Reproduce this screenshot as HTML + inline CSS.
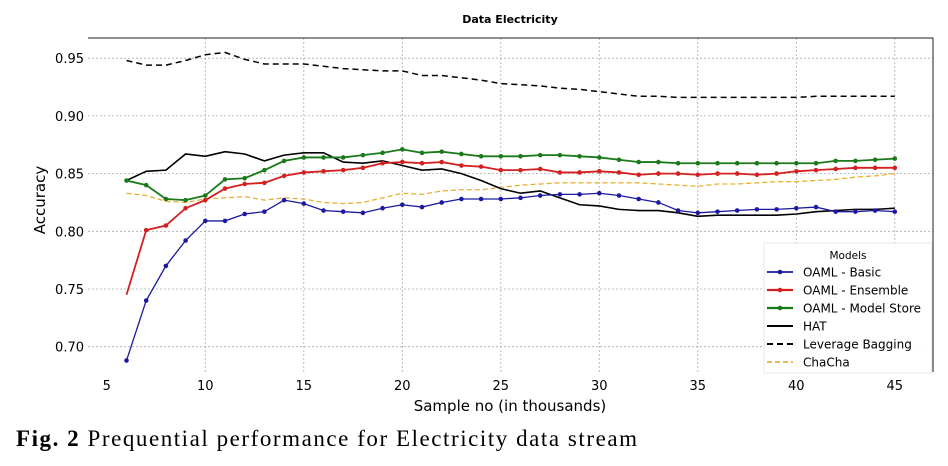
<!DOCTYPE html>
<html><head><meta charset="utf-8"><style>
body{margin:0;background:#fff;width:948px;height:461px;overflow:hidden}
svg text{font-family:"DejaVu Sans","Liberation Sans",sans-serif}
</style></head><body>
<svg id="chart" width="948" height="461" xmlns="http://www.w3.org/2000/svg">
<text x="510" y="23" font-size="11" font-weight="bold" text-anchor="middle">Data Electricity</text>
<g id="grid"></g><g id="axes"></g><g id="series"></g>
<text transform="translate(45,200) rotate(-90)" font-size="15" text-anchor="middle">Accuracy</text>
<text x="510" y="411" font-size="15" text-anchor="middle">Sample no (in thousands)</text>
<g id="legend"></g>
<text x="16" y="446" font-size="23" textLength="621" lengthAdjust="spacing" style="font-family:'Liberation Serif',serif"><tspan font-weight="bold">Fig. 2</tspan>  Prequential performance for Electricity data stream</text>
</svg>
<script>
const xs=[];for(let i=6;i<=45;i++)xs.push(i);
const xTicks=[5,10,15,20,25,30,35,40,45];
const yTicks=[0.70,0.75,0.80,0.85,0.90,0.95];
const basic=[0.688,0.740,0.770,0.792,0.809,0.809,0.815,0.817,0.827,0.824,0.818,0.817,0.816,0.820,0.823,0.821,0.825,0.828,0.828,0.828,0.829,0.831,0.832,0.832,0.833,0.831,0.828,0.825,0.818,0.816,0.817,0.818,0.819,0.819,0.820,0.821,0.817,0.817,0.818,0.817];
const ensemble=[0.745,0.801,0.805,0.820,0.827,0.837,0.841,0.842,0.848,0.851,0.852,0.853,0.855,0.859,0.860,0.859,0.860,0.857,0.856,0.853,0.853,0.854,0.851,0.851,0.852,0.851,0.849,0.850,0.850,0.849,0.850,0.850,0.849,0.850,0.852,0.853,0.854,0.855,0.855,0.855];
const store=[0.844,0.840,0.828,0.827,0.831,0.845,0.846,0.853,0.861,0.864,0.864,0.864,0.866,0.868,0.871,0.868,0.869,0.867,0.865,0.865,0.865,0.866,0.866,0.865,0.864,0.862,0.860,0.860,0.859,0.859,0.859,0.859,0.859,0.859,0.859,0.859,0.861,0.861,0.862,0.863];
const hat=[0.844,0.852,0.853,0.867,0.865,0.869,0.867,0.861,0.866,0.868,0.868,0.860,0.859,0.861,0.857,0.853,0.854,0.850,0.844,0.837,0.833,0.835,0.829,0.823,0.822,0.819,0.818,0.818,0.816,0.813,0.814,0.814,0.814,0.814,0.815,0.817,0.818,0.819,0.819,0.820];
const bagging=[0.948,0.944,0.944,0.948,0.953,0.955,0.949,0.945,0.945,0.945,0.943,0.941,0.940,0.939,0.939,0.935,0.935,0.933,0.931,0.928,0.927,0.926,0.924,0.923,0.921,0.919,0.917,0.917,0.916,0.916,0.916,0.916,0.916,0.916,0.916,0.917,0.917,0.917,0.917,0.917];
const chacha=[0.833,0.831,0.826,0.825,0.828,0.829,0.830,0.827,0.829,0.828,0.825,0.824,0.825,0.829,0.833,0.832,0.835,0.836,0.836,0.838,0.840,0.841,0.842,0.842,0.842,0.842,0.842,0.841,0.840,0.839,0.841,0.841,0.842,0.843,0.843,0.844,0.845,0.847,0.848,0.850];
const NS="http://www.w3.org/2000/svg";
const X=v=>106.8+(v-5)*19.7;
const Y=v=>231.3-(v-0.80)*1154;
function mk(p,t,a){const e=document.createElementNS(NS,t);for(const k in a)e.setAttribute(k,a[k]);p.appendChild(e);return e;}
const grid=document.getElementById('grid'),axes=document.getElementById('axes'),ser=document.getElementById('series');
xTicks.forEach(t=>{
 if(t>5){const l=mk(grid,'line',{x1:X(t),x2:X(t),y1:38,y2:372,stroke:'#aaa','stroke-width':0.8,'stroke-dasharray':'2,2'});
 
 }
 const tx=mk(axes,'text',{x:X(t),y:390,'font-size':13,'text-anchor':'middle'});tx.textContent=t;
 
 
});
yTicks.forEach(t=>{
 const l=mk(grid,'line',{x1:88,x2:933,y1:Y(t),y2:Y(t),stroke:'#aaa','stroke-width':0.8,'stroke-dasharray':'2,2'});
 
 
 const tx=mk(axes,'text',{x:84,y:Y(t)+5,'font-size':13,'text-anchor':'end'});tx.textContent=t.toFixed(2);
 
 
});
const fr=mk(axes,'path',{d:'M88 38 H933 V372',fill:'none',stroke:'#222','stroke-width':1});


const defs=[
 {n:'leverage-bagging',d:bagging,c:'#000',w:1.5,dash:'6,4',m:false,l:'Leverage Bagging'},
 {n:'chacha',d:chacha,c:'#e8b030',w:1.3,dash:'5,3',m:false,l:'ChaCha'},
 {n:'hat',d:hat,c:'#000',w:1.6,dash:null,m:false,l:'HAT'},
 {n:'oaml-model-store',d:store,c:'#1a7a1a',w:1.8,dash:null,m:true,l:'OAML - Model Store'},
 {n:'oaml-ensemble',d:ensemble,c:'#d42020',w:1.8,dash:null,m:true,l:'OAML - Ensemble'},
 {n:'oaml-basic',d:basic,c:'#1a1aa0',w:1.3,dash:null,m:true,l:'OAML - Basic'}];
defs.forEach(s=>{
 const g=mk(ser,'g',{});
 
 
 const pts=s.d.map((v,i)=>X(xs[i])+','+Y(v)).join(' ');
 const a={points:pts,fill:'none',stroke:s.c,'stroke-width':s.w};if(s.dash)a['stroke-dasharray']=s.dash;
 const pl=mk(g,'polyline',a);
 
 
 if(s.m)s.d.forEach((v,i)=>{if(s.n==='oaml-ensemble'&&i===0)return;
  const c=mk(g,'circle',{cx:X(xs[i]),cy:Y(v),r:2.3,fill:s.c});
  
  });
});
const lg=document.getElementById('legend');
mk(lg,'rect',{x:764,y:243,width:168,height:130,fill:'#fff',stroke:'#ddd','stroke-width':0.8,opacity:0.95});
const lt=mk(lg,'text',{x:848,y:259,'font-size':10.5,'text-anchor':'middle'});lt.textContent='Models';
const order=[5,4,3,2,0,1];
order.forEach((k,j)=>{const s=defs[k];const y=272+j*18;
 const a={x1:767,x2:793,y1:y,y2:y,stroke:s.c,'stroke-width':s.w+0.4};if(s.dash)a['stroke-dasharray']=s.dash;
 const e=mk(lg,'line',a);
 
 
 if(s.m)mk(lg,'circle',{cx:780,cy:y,r:2.3,fill:s.c});
 const t=mk(lg,'text',{x:803,y:y+4.5,'font-size':12});t.textContent=s.l;
});
</script>
</body></html>
